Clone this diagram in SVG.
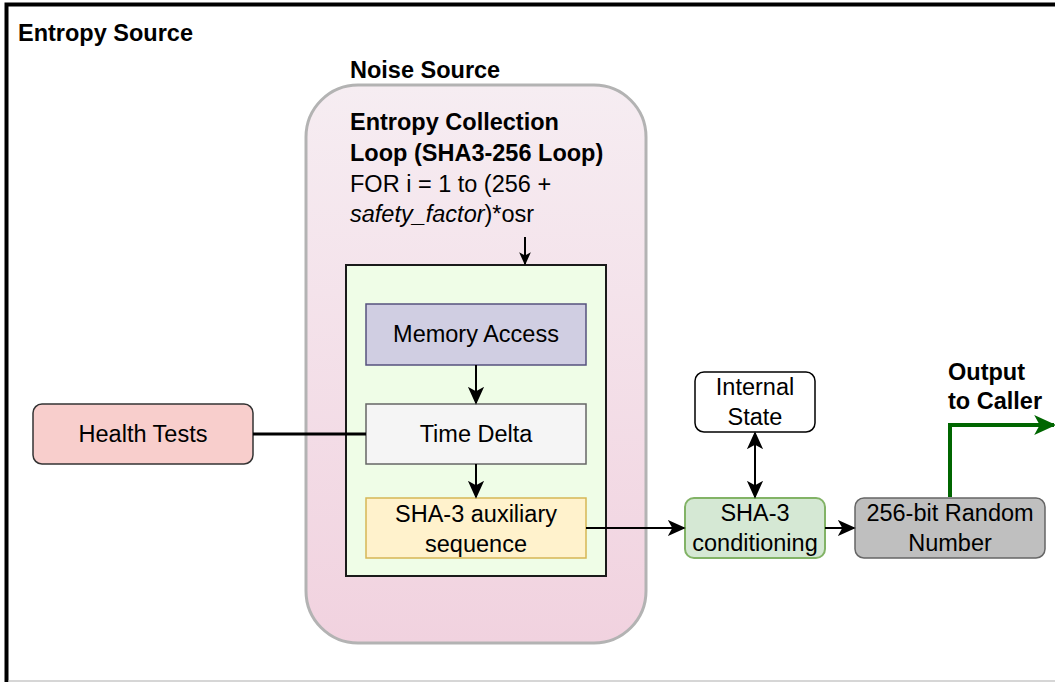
<svg xmlns="http://www.w3.org/2000/svg" width="1055" height="682" viewBox="0 0 1055 682">
<defs>
<linearGradient id="pinkGrad" x1="0" y1="0" x2="0" y2="1">
<stop offset="0" stop-color="#f6edf2"/>
<stop offset="1" stop-color="#f1d2df"/>
</linearGradient>
<marker id="ah" viewBox="0 0 10 10" refX="9" refY="5" markerWidth="13" markerHeight="13" markerUnits="userSpaceOnUse" orient="auto-start-reverse">
<path d="M0,0.5 L10,5 L0,9.5 L2.5,5 Z" fill="#000"/>
</marker>
<marker id="ahBig" viewBox="0 0 10 10" refX="9" refY="5" markerWidth="18" markerHeight="18" markerUnits="userSpaceOnUse" orient="auto-start-reverse">
<path d="M0,0.5 L10,5 L0,9.5 L2.5,5 Z" fill="#000"/>
</marker>
<marker id="ahGreen" viewBox="0 0 10 10" refX="9" refY="5" markerWidth="22" markerHeight="22" markerUnits="userSpaceOnUse" orient="auto">
<path d="M0,0.5 L10,5 L0,9.5 L2.5,5 Z" fill="#006600"/>
</marker>
</defs>
<style>
text { font-family: "Liberation Sans", Arial, sans-serif; font-size: 23.5px; fill: #000; }
.b { font-weight: bold; }
.c { text-anchor: middle; dominant-baseline: central; }
.conn { fill: none; stroke: #000; stroke-width: 2; }
</style>

<g id="entropy-source">
<rect x="6.5" y="4.5" width="1100" height="700" fill="#fff" stroke="#000" stroke-width="4"/>
<line x1="8.5" y1="681" x2="1055" y2="681" stroke="#c8c8c8" stroke-width="1.5"/>
<text class="b" x="18" y="41">Entropy Source</text>
</g>

<g id="noise-source">
<rect x="306" y="85" width="340" height="558" rx="52" ry="52" fill="url(#pinkGrad)" stroke="#b3b3b3" stroke-width="3"/>
<text class="b" x="350" y="78">Noise Source</text>
<text class="b" x="350" y="130">Entropy Collection</text>
<text class="b" x="350" y="161">Loop (SHA3-256 Loop)</text>
<text x="350" y="192">FOR i = 1 to (256 +</text>
<text x="350" y="222"><tspan font-style="italic">safety_factor</tspan>)*osr</text>
</g>

<g id="loop">
<rect x="346" y="265" width="260" height="311" fill="#effde7" stroke="#1a1a1a" stroke-width="2"/>
</g>

<g id="memory-access">
<rect x="366" y="304" width="220" height="61" fill="#d0cee2" stroke="#56517e" stroke-width="1.5"/>
<text class="c" x="476" y="334">Memory Access</text>
</g>

<g id="time-delta">
<rect x="366" y="404" width="220" height="60" fill="#f5f5f5" stroke="#666" stroke-width="1.5"/>
<text class="c" x="476" y="434">Time Delta</text>
</g>

<g id="sha3-aux">
<rect x="366" y="498" width="220" height="60" fill="#fff2cc" stroke="#d6b656" stroke-width="1.5"/>
<text class="c" x="476" y="514">SHA-3 auxiliary</text>
<text class="c" x="476" y="544">sequence</text>
</g>

<g id="health-tests">
<rect x="33" y="404" width="220" height="60" rx="9" ry="9" fill="#f8cecc" stroke="#333" stroke-width="1.5"/>
<text class="c" x="143" y="434">Health Tests</text>
</g>

<g id="internal-state">
<rect x="695" y="372" width="120" height="60" rx="9" ry="9" fill="#fff" stroke="#000" stroke-width="1.5"/>
<text class="c" x="755" y="387">Internal</text>
<text class="c" x="755" y="417">State</text>
</g>

<g id="sha3-conditioning">
<rect x="685" y="498" width="140" height="60" rx="9" ry="9" fill="#d5e8d4" stroke="#82b366" stroke-width="2"/>
<text class="c" x="755" y="513">SHA-3</text>
<text class="c" x="755" y="543">conditioning</text>
</g>

<g id="random-number">
<rect x="855" y="498" width="190" height="60" rx="9" ry="9" fill="#bfbfbf" stroke="#666" stroke-width="1.5"/>
<text class="c" x="950" y="513">256-bit Random</text>
<text class="c" x="950" y="543">Number</text>
</g>

<g id="output-label">
<text class="b" x="948" y="380">Output</text>
<text class="b" x="948" y="409">to Caller</text>
</g>

<g id="connectors">
<path class="conn" d="M525,237 L525,264" marker-end="url(#ah)"/>
<path class="conn" d="M476,365 L476,403" marker-end="url(#ahBig)"/>
<path class="conn" d="M476,464 L476,497" marker-end="url(#ahBig)"/>
<path class="conn" d="M253,434 L366,434" style="stroke-width:3"/>
<path class="conn" d="M586,528 L684,528" marker-end="url(#ahBig)"/>
<path class="conn" d="M755,433 L755,497" marker-start="url(#ahBig)" marker-end="url(#ahBig)"/>
<path class="conn" d="M825,528 L854,528" marker-end="url(#ahBig)"/>
<path d="M950,497 L950,425 L1054,425" fill="none" stroke="#006600" stroke-width="4" marker-end="url(#ahGreen)"/>
</g>
</svg>
